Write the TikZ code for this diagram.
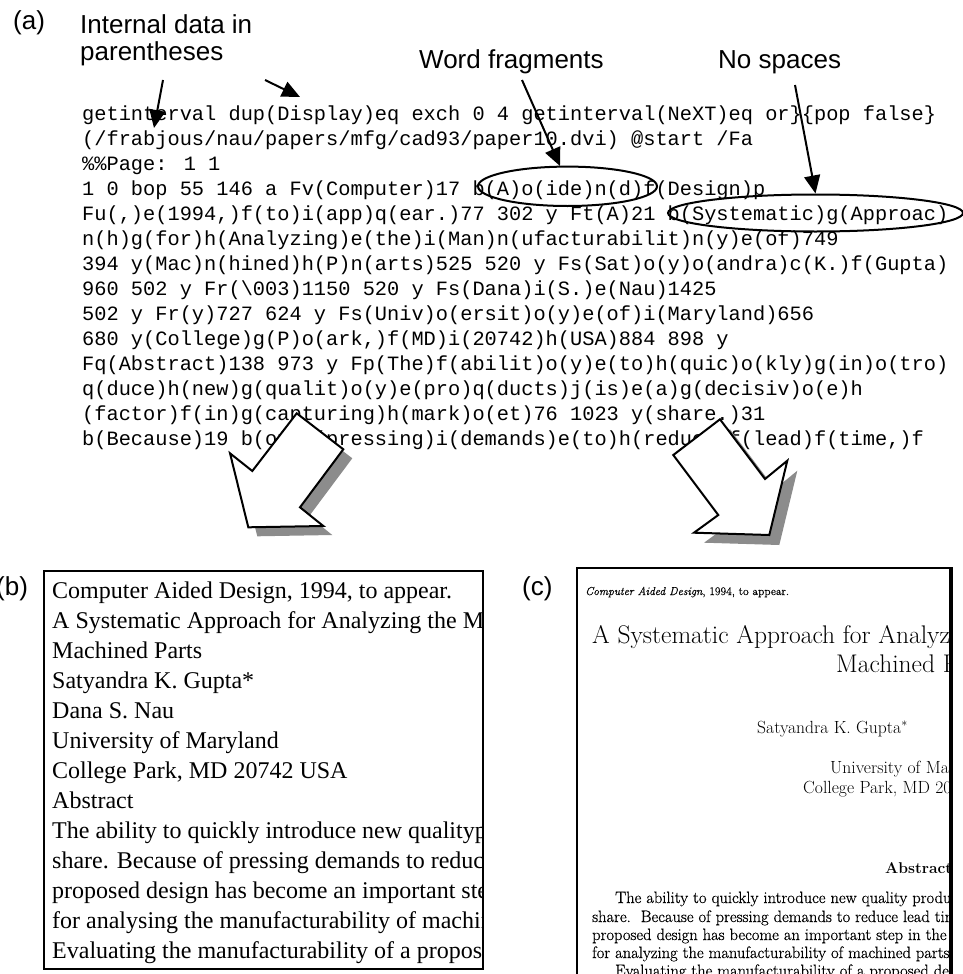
\documentclass[tikz,border=0pt]{standalone}
\usepackage{fontspec}
\newfontfamily\codefont{Liberation Mono}
\newfontfamily\sansf{Liberation Sans}
\newfontfamily\timesf{Liberation Serif}
\newfontfamily\cmheavy{Latin Modern Roman}[FakeBold=0.6]
\usetikzlibrary{arrows.meta,shapes.geometric}
\definecolor{shadowgray}{RGB}{140,140,140}
\begin{document}
\begin{tikzpicture}[x=1pt,y=-1pt,
  codeline/.style={anchor=base west,inner sep=0pt,font=\codefont\fontsize{20.33}{25}\selectfont},
  lbl/.style={anchor=base west,inner sep=0pt,font=\sansf\fontsize{26}{30}\selectfont},
  ptr/.style={line width=2pt,-{Triangle[length=18pt,width=16pt]}},
  ring/.style={draw,ellipse,line width=2pt,inner sep=0pt},
  bigarrow/.style={draw=black,line width=2pt,fill=white,line join=miter},
  shade/.style={fill=shadowgray,draw=none},
  btext/.style={anchor=base west,inner sep=0pt,font=\timesf\fontsize{24}{30}\selectfont},
  ctext/.style={anchor=base west,inner sep=0pt,font=\cmheavy\fontsize{16.5}{18}\selectfont},
  ctitle/.style={anchor=base west,inner sep=0pt,font=\fontsize{25.5}{29}\selectfont},
  cauth/.style={anchor=base west,inner sep=0pt,font=\fontsize{17.6}{20}\selectfont},
  panel/.style={draw,line width=2pt,inner sep=0pt,anchor=north west}]
\useasboundingbox (0,0) rectangle (963,974);
\fill[white] (0,0) rectangle (963,974);

% labels of (a)
\node[lbl] (la) at (13,30) {(a)};
\node[lbl] (l1) at (80,33.5) {Internal data in};
\node[lbl] (l2) at (80,61) {parentheses};
\node[lbl] (l3) at (419,68) {Word fragments};
\node[lbl] (l4) at (718,68) {No spaces};

% code
\node[codeline] (c1) at (82,120) {getinterval dup(Display)eq exch 0 4 getinterval(NeXT)eq or\}\{pop false\}};
\node[codeline] (c2) at (82,145) {(/frabjous/nau/papers/mfg/cad93/paper10.dvi) @start /Fa};
\node[codeline] (c3) at (82,170) {\%\%Page: 1 1};
\node[codeline] (c4) at (82,195) {1 0 bop 55 146 a Fv(Computer)17 b(A)o(ide)n(d)f(Design)p};
\node[codeline] (c5) at (82,220) {Fu(,)e(1994,)f(to)i(app)q(ear.)77 302 y Ft(A)21 b(Systematic)g(Approac)};
\node[codeline] (c6) at (82,245) {n(h)g(for)h(Analyzing)e(the)i(Man)n(ufacturabilit)n(y)e(of)749};
\node[codeline] (c7) at (82,270) {394 y(Mac)n(hined)h(P)n(arts)525 520 y Fs(Sat)o(y)o(andra)c(K.)f(Gupta)};
\node[codeline] (c8) at (82,295) {960 502 y Fr(\textbackslash 003)1150 520 y Fs(Dana)i(S.)e(Nau)1425};
\node[codeline] (c9) at (82,320) {502 y Fr(y)727 624 y Fs(Univ)o(ersit)o(y)e(of)i(Maryland)656};
\node[codeline] (c10) at (82,345) {680 y(College)g(P)o(ark,)f(MD)i(20742)h(USA)884 898 y};
\node[codeline] (c11) at (82,370) {Fq(Abstract)138 973 y Fp(The)f(abilit)o(y)e(to)h(quic)o(kly)g(in)o(tro)};
\node[codeline] (c12) at (82,395) {q(duce)h(new)g(qualit)o(y)e(pro)q(ducts)j(is)e(a)g(decisiv)o(e)h};
\node[codeline] (c13) at (82,420) {(factor)f(in)g(capturing)h(mark)o(et)76 1023 y(share.)31};
\node[codeline] (c14) at (82,445) {b(Because)19 b(of)g(pressing)i(demands)e(to)h(reduce)f(lead)f(time,)f};

% ellipses
\node[ring,minimum width=179pt,minimum height=39.4pt] (e1) at (567.5,186.3) {};
\node[ring,minimum width=295pt,minimum height=37pt] (e2) at (815.5,213) {};

% pointer arrows
\coordinate (a1s) at (163,80); \coordinate (a1t) at (154,128);
\coordinate (a2s) at (265,80); \coordinate (a2t) at (300,97);
\coordinate (a3s) at (522,80); \coordinate (a3t) at (560,166);
\coordinate (a4s) at (795,85);
\draw[ptr] (a1s) -- (a1t);
\draw[ptr] (a2s) -- (a2t);
\draw[ptr] (a3s) -- (a3t);
\draw[ptr] (a4s) -- (e2.north);

% big arrows
\fill[shade,shift={(9,9)}] (296.7,413.3) -- (343.3,449.3) -- (300,507.3) -- (323.3,526) -- (248.3,527.3) -- (230,453.3) -- (252.3,471) -- cycle;
\draw[bigarrow] (296.7,413.3) -- (343.3,449.3) -- (300,507.3) -- (323.3,526) -- (248.3,527.3) -- (230,453.3) -- (252.3,471) -- cycle;
\fill[shade,shift={(10,10)}] (720,419.3) -- (765,479) -- (787.3,460.7) -- (769.3,535) -- (694,532.7) -- (718.3,515) -- (673.3,455) -- cycle;
\draw[bigarrow] (720,419.3) -- (765,479) -- (787.3,460.7) -- (769.3,535) -- (694,532.7) -- (718.3,515) -- (673.3,455) -- cycle;

% panel (b)
\node[lbl] (lb) at (-4,595) {(b)};
\node[panel,minimum width=439pt,minimum height=398pt] (pb) at (43,570) {};
\begin{scope}
\clip (44,571) rectangle (481,967);
\node[btext] (b1) at (52,598) {Computer Aided Design, 1994, to appear.};
\node[btext] (b2) at (52,628) {A Systematic Approach for Analyzing the Manufacturability of};
\node[btext] (b3) at (52,658) {Machined Parts};
\node[btext] (b4) at (52,688) {Satyandra K. Gupta*};
\node[btext] (b5) at (52,718) {Dana S. Nau};
\node[btext] (b6) at (52,748) {University of Maryland};
\node[btext] (b7) at (52,778) {College Park, MD 20742 USA};
\node[btext] (b8) at (52,808) {Abstract};
\node[btext] (b9) at (52,838) {The ability to quickly introduce new qualityproducts is};
\node[btext] (b10) at (52,868) {share. Because of pressing demands to reduce lead time,};
\node[btext] (b11) at (52,898) {proposed design has become an important step in the};
\node[btext] (b12) at (52,928) {for analysing the manufacturability of machined parts.};
\node[btext] (b13) at (52,958) {Evaluating the manufacturability of a proposed design};
\end{scope}

% panel (c)
\node[lbl] (lc) at (522,595) {(c)};
\draw[line width=2pt] (952,990) -- (952,568) -- (577,568) -- (577,990);
\draw[line width=3.5pt] (951,568) -- (951,990);
\begin{scope}
\clip (578,569) rectangle (949,990);
\node[anchor=base west,inner sep=0pt,font=\cmheavy\fontsize{11.5}{14}\selectfont] (k1) at (585,595) {\textit{Computer Aided Design}, 1994, to appear.};
\node[ctitle] (k2) at (592,643) {A Systematic Approach for Analyzing the Manufacturability of};
\node[ctitle] (k3) at (836,672) {Machined Parts};
\node[cauth] (k4) at (757,733) {Satyandra K. Gupta$^*$};
\node[cauth] (k5) at (830,773) {University of Maryland};
\node[cauth] (k6) at (803,793) {College Park, MD 20742};
\node[anchor=base west,inner sep=0pt,font=\bfseries\fontsize{15.6}{18}\selectfont] (k7) at (885,873) {Abstract};
\node[ctext] (k8) at (615,903) {The ability to quickly introduce new quality products};
\node[ctext] (k9) at (592,922) {share.\ \ Because of pressing demands to reduce lead time};
\node[ctext] (k10) at (592,940) {proposed design has become an important step in the design};
\node[ctext] (k11) at (592,958) {for analyzing the manufacturability of machined parts.};
\node[ctext] (k12) at (615,976) {Evaluating the manufacturability of a proposed design};
\end{scope}
\end{tikzpicture}
\end{document}
